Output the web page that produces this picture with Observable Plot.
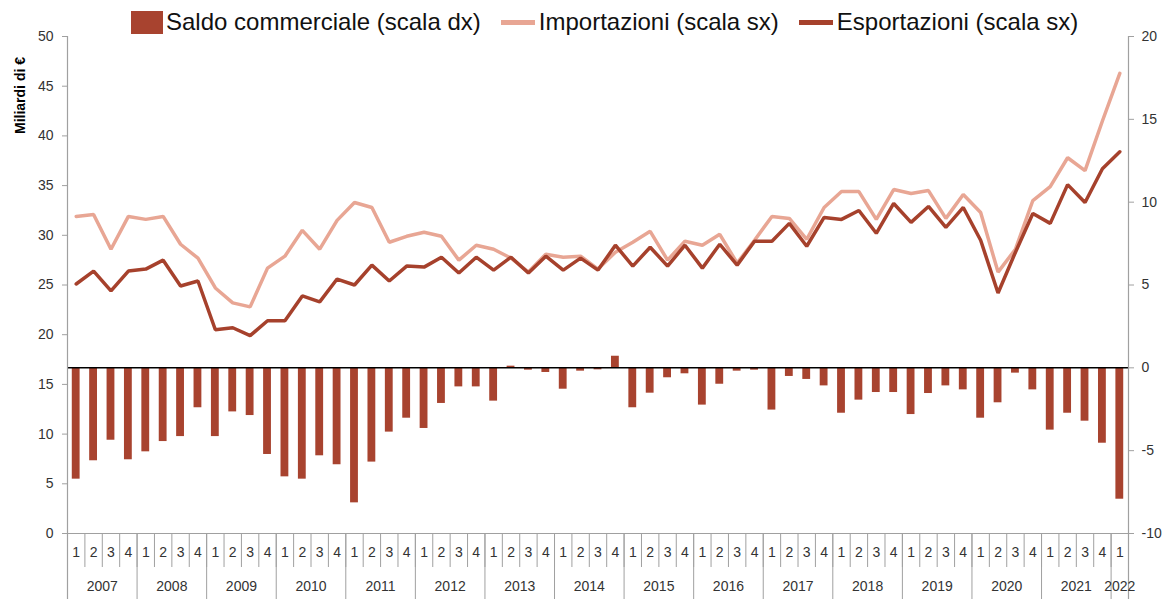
<!DOCTYPE html>
<html><head><meta charset="utf-8">
<script src="https://cdn.jsdelivr.net/npm/d3@7"></script>
<script src="https://cdn.jsdelivr.net/npm/@observablehq/plot@0.6"></script>
<style>
body{margin:0;background:#fff;}
#wrap{position:relative;width:1170px;height:599px;}
#legend{position:absolute;top:2px;left:131px;height:40px;display:flex;align-items:center;font-family:"Liberation Sans",Arial,sans-serif;font-size:24px;color:#111;white-space:nowrap;}
#legend .item{display:flex;align-items:center;margin-right:20px;}
#legend .sq{width:32px;height:23px;margin-right:3px;}
#legend .ln{width:34px;height:5px;margin-right:4px;}
</style></head>
<body><div id="wrap"><div id="legend"></div></div>
<script>
// ---- data ----
const years = [2007,2008,2009,2010,2011,2012,2013,2014,2015,2016,2017,2018,2019,2020,2021,2022];
const quarters = ["1","2","3","4"];
const nQuarters = 61; // 2007Q1 .. 2022Q1
const importazioni = [
  31.9,32.1,28.6,31.9, 31.6,31.9,29.1,27.7, 24.7,23.2,22.8,26.7, 27.9,30.5,28.6,31.5,
  33.3,32.8,29.3,29.9, 30.3,29.9,27.5,29.0, 28.6,27.7,26.3,28.1, 27.8,27.9,26.6,28.3,
  29.3,30.4,27.5,29.4, 29.0,30.1,27.2,29.5, 31.9,31.7,29.6,32.8, 34.4,34.4,31.6,34.6,
  34.2,34.5,31.7,34.1, 32.3,26.3,28.6,33.5, 34.9,37.8,36.5,41.5, 46.3];
const esportazioni = [
  25.1,26.4,24.4,26.4, 26.6,27.5,24.9,25.4, 20.5,20.7,19.9,21.4, 21.4,23.9,23.3,25.6,
  25.0,27.0,25.4,26.9, 26.8,27.8,26.2,27.8, 26.5,27.8,26.2,27.9, 26.5,27.7,26.5,29.0,
  26.9,28.8,26.9,29.0, 26.7,29.1,27.0,29.4, 29.4,31.2,28.9,31.8, 31.6,32.5,30.2,33.2,
  31.3,32.9,30.8,32.8, 29.5,24.2,28.3,32.2, 31.2,35.1,33.3,36.7, 38.4];
const saldo = [
  -6.72,-5.61,-4.37,-5.55, -5.07,-4.45,-4.15,-2.41, -4.15,-2.66,-2.88,-5.23, -6.58,-6.72,-5.31,-5.85,
  -8.15,-5.69,-3.88,-3.04, -3.66,-2.15,-1.15,-1.15, -2.01,0.10,-0.14,-0.28, -1.29,-0.20,-0.12,0.70,
  -2.41,-1.53,-0.60,-0.36, -2.25,-0.99,-0.20,-0.14, -2.55,-0.52,-0.70,-1.09, -2.74,-1.95,-1.49,-1.49,
  -2.82,-1.55,-1.09,-1.33, -3.04,-2.11,-0.32,-1.33, -3.76,-2.74,-3.22,-4.55, -7.93];
const leftTicks = [0,5,10,15,20,25,30,35,40,45,50];
const rightTicks = [-10,-5,0,5,10,15,20];
const legendLabels = ["Saldo commerciale (scala dx)","Importazioni (scala sx)","Esportazioni (scala sx)"];
const yLabel = "Miliardi di €";

// ---- styles ----
const barColor = "#A8432F", impColor = "#E8A694", expColor = "#A6412C";
const W = 1170, H = 599, mL = 67, mR = 42, mT = 36, mB = 66;

// ---- table ----
const rows = [];
for (const y of years) for (const q of quarters) {
  if (rows.length < nQuarters) rows.push({key: `${y}-${q}`, year: y, q});
}
rows.forEach((r, i) => { r.imp = importazioni[i]; r.exp = esportazioni[i]; r.saldo = saldo[i]; });
const keys = rows.map(r => r.key);
const leftMin = 0, leftMax = 50, rMin = -10, rMax = 20;
const toLeft = v => leftMin + (v - rMin) / (rMax - rMin) * (leftMax - leftMin);
const toRight = v => rMin + (v - leftMin) / (leftMax - leftMin) * (rMax - rMin);

const step = (W - mL - mR) / keys.length;
const frameH = H - mT - mB;
const yearFirst = years.map(y => rows.find(r => r.year === y)).filter(Boolean);
const yearFull = years.filter(y => rows.filter(r => r.year === y).length === 4).map(y => rows.find(r => r.year === y && r.q === "2"));
const yearPartial = years.filter(y => { const n = rows.filter(r => r.year === y).length; return n > 0 && n < 4; }).map(y => rows.find(r => r.year === y));

const font = "'Liberation Sans', Arial, sans-serif";
const chart = Plot.plot({
  width: W, height: H,
  marginLeft: mL, marginRight: mR, marginTop: mT, marginBottom: mB,
  style: {fontFamily: font, background: "white", overflow: "visible"},
  x: {type: "band", domain: keys, paddingInner: 0.55, paddingOuter: 0.275, round: false, axis: null},
  y: {domain: [leftMin, leftMax], axis: null},
  marks: [
    Plot.barY(rows, {x: "key", y1: () => toLeft(0), y2: d => toLeft(d.saldo), fill: barColor}),
    Plot.ruleY([toLeft(0)], {stroke: "#000", strokeWidth: 1.5}),
    Plot.ruleY([leftMin], {stroke: "#a0a0a0", strokeWidth: 1.2}),
    // x category separators
    Plot.ruleX(rows, {x: "key", dx: -step / 2, insetTop: frameH, insetBottom: -34, stroke: "#a0a0a0"}),
    Plot.ruleX(yearFirst, {x: "key", dx: -step / 2, insetTop: frameH, insetBottom: -mB, stroke: "#a0a0a0"}),
    Plot.ruleX([keys[0]], {dx: -step / 2, insetBottom: -mB, stroke: "#a0a0a0", strokeWidth: 1.2}),
    Plot.ruleX([keys[keys.length - 1]], {dx: step / 2, insetBottom: -mB, stroke: "#a0a0a0", strokeWidth: 1.2}),
    Plot.line(rows, {x: "key", y: "imp", stroke: impColor, strokeWidth: 3.5, strokeLinejoin: "miter"}),
    Plot.line(rows, {x: "key", y: "exp", stroke: expColor, strokeWidth: 3.5, strokeLinejoin: "miter"}),
    Plot.axisY(leftTicks, {anchor: "left", tickSize: 5, tickPadding: 9, stroke: "#a0a0a0", fill: "#333", fontSize: 14}),
    Plot.axisY(rightTicks.map(toLeft), {anchor: "right", tickSize: 5, tickPadding: 8, stroke: "#a0a0a0", fill: "#333", fontSize: 14, tickFormat: d => String(Math.round(toRight(d)))}),
    Plot.text(rows, {x: "key", text: "q", frameAnchor: "bottom", dy: 23, fontSize: 14, fill: "#333"}),
    Plot.text(yearFull, {x: "key", text: d => String(d.year), frameAnchor: "bottom", dx: step / 2, dy: 57, fontSize: 14, fill: "#333"}),
    Plot.text(yearPartial, {x: "key", text: d => String(d.year), frameAnchor: "bottom", dy: 57, fontSize: 14, fill: "#333"}),
    Plot.text([yLabel], {frameAnchor: "top-left", textAnchor: "middle", rotate: -90, dx: -52, dy: 59, fontSize: 14, fontWeight: "bold", fill: "#000"})
  ]
});
document.getElementById("wrap").prepend(chart);

// legend
const lg = document.getElementById("legend");
const swatches = [{cls: "sq", color: barColor}, {cls: "ln", color: impColor}, {cls: "ln", color: expColor}];
legendLabels.forEach((t, i) => {
  const it = document.createElement("div"); it.className = "item";
  const sw = document.createElement("span"); sw.className = swatches[i].cls; sw.style.background = swatches[i].color;
  const tx = document.createElement("span"); tx.textContent = t;
  it.append(sw, tx); lg.append(it);
});
</script></body></html>
